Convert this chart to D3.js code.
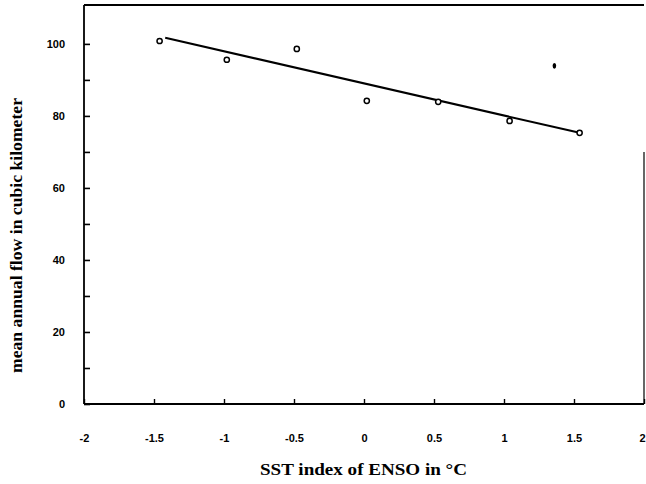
<!DOCTYPE html>
<html>
<head>
<meta charset="utf-8">
<script src="https://cdn.jsdelivr.net/npm/d3@7"></script>
<style>
  body { margin: 0; background: #fff; }
  .tick text { font-family: "Liberation Sans", Arial, sans-serif; font-weight: bold; font-size: 11px; fill: #000; }
  .title { font-family: "Liberation Serif", "DejaVu Serif", serif; font-weight: bold; font-size: 16px; fill: #000; }
</style>
</head>
<body>
<div class="chart"></div>
<script>
// observed years: SST anomaly vs mean annual flow
const sstIndex = [-1.46, -0.98, -0.48, 0.02, 0.53, 1.04, 1.54];
const meanFlow = [100.8, 95.6, 98.6, 84.2, 83.9, 78.6, 75.3];
// single filled point
const extraSst = [1.36];
const extraFlow = [93.9];
// fitted regression line end points
const fitSst = [-1.42, 1.54];
const fitFlow = [101.7, 75.3];

const xTicks = [-2, -1.5, -1, -0.5, 0, 0.5, 1, 1.5, 2];
const yTicks = [0, 20, 40, 60, 80, 100];
const yMinorTicks = [10, 30, 50, 70, 90];

const width = 646;
const height = 484;

const svg = d3.select(".chart")
  .append("svg")
  .attr("width", width)
  .attr("height", height);

const x = d3.scaleLinear().domain([-2, 2]).range([84, 644]);
const y = d3.scaleLinear().domain([0, 110.8]).range([404, 5]);

const xAxis = d3.axisBottom(x)
  .tickValues(xTicks)
  .tickSize(-5)
  .tickPadding(30)
  .tickFormat(d3.format("~g"));

const yAxis = d3.axisLeft(y)
  .tickValues(yTicks)
  .tickSize(-6)
  .tickPadding(19)
  .tickFormat(d3.format("d"));

const gx = svg.append("g")
  .attr("transform", `translate(0,${y(0)})`)
  .call(xAxis);
gx.select(".domain").remove();
gx.selectAll(".tick line").attr("stroke", "#000").attr("stroke-width", 1.4);
gx.selectAll(".tick text")
  .text(d => d3.format("~g")(d).replace("−", "-"))
  .attr("text-anchor", d => d === 2 ? "end" : "middle")
  .attr("x", d => d === 2 ? 1 : 0);

const gy = svg.append("g")
  .attr("transform", `translate(${x(-2)},0)`)
  .call(yAxis);
gy.select(".domain").remove();
gy.selectAll(".tick line").attr("stroke", "#000").attr("stroke-width", 1.6);

svg.append("g")
  .attr("transform", `translate(${x(-2)},0)`)
  .call(d3.axisLeft(y).tickValues(yMinorTicks).tickSize(-6).tickFormat(""))
  .call(g => g.select(".domain").remove())
  .selectAll(".tick line").attr("stroke", "#000").attr("stroke-width", 1.6);

// frame
const frame = svg.append("g").attr("stroke", "#000").attr("fill", "none");
frame.append("line")
  .attr("x1", x(-2)).attr("x2", x(-2))
  .attr("y1", y.range()[1]).attr("y2", y(0))
  .attr("stroke-width", 1.8);
frame.append("line")
  .attr("x1", x(-2)).attr("x2", x(2))
  .attr("y1", y(0)).attr("y2", y(0))
  .attr("stroke-width", 1.8);
frame.append("line")
  .attr("x1", x(-2)).attr("x2", x(2))
  .attr("y1", y.range()[1]).attr("y2", y.range()[1])
  .attr("stroke-width", 2);
frame.append("line")
  .attr("x1", x(2)).attr("x2", x(2))
  .attr("y1", y(70)).attr("y2", y(0))
  .attr("stroke-width", 1.2);

// regression line
const fit = fitSst.map((d, i) => [d, fitFlow[i]]);
svg.append("path")
  .datum(fit)
  .attr("fill", "none")
  .attr("stroke", "#000")
  .attr("stroke-width", 2)
  .attr("d", d3.line().x(d => x(d[0])).y(d => y(d[1])));

// points
const pts = sstIndex.map((d, i) => ({ sst: d, flow: meanFlow[i] }));
svg.selectAll(".dot")
  .data(pts)
  .enter()
  .append("circle")
  .attr("class", "dot")
  .attr("cx", d => x(d.sst))
  .attr("cy", d => y(d.flow))
  .attr("r", 2.6)
  .attr("fill", "#fff")
  .attr("stroke", "#000")
  .attr("stroke-width", 1.5);

svg.selectAll(".extra")
  .data(extraSst.map((d, i) => ({ sst: d, flow: extraFlow[i] })))
  .enter()
  .append("ellipse")
  .attr("class", "extra")
  .attr("cx", d => x(d.sst))
  .attr("cy", d => y(d.flow))
  .attr("rx", 1.8)
  .attr("ry", 2.8)
  .attr("fill", "#000");

// titles
svg.append("text")
  .attr("class", "title")
  .attr("x", 260)
  .attr("y", 475)
  .attr("textLength", 207)
  .attr("lengthAdjust", "spacingAndGlyphs")
  .text("SST index of ENSO in \u00B0C");

svg.append("text")
  .attr("class", "title")
  .attr("transform", "translate(22,373) rotate(-90)")
  .attr("textLength", 275)
  .attr("lengthAdjust", "spacingAndGlyphs")
  .text("mean annual flow in cubic kilometer");
</script>
</body>
</html>
